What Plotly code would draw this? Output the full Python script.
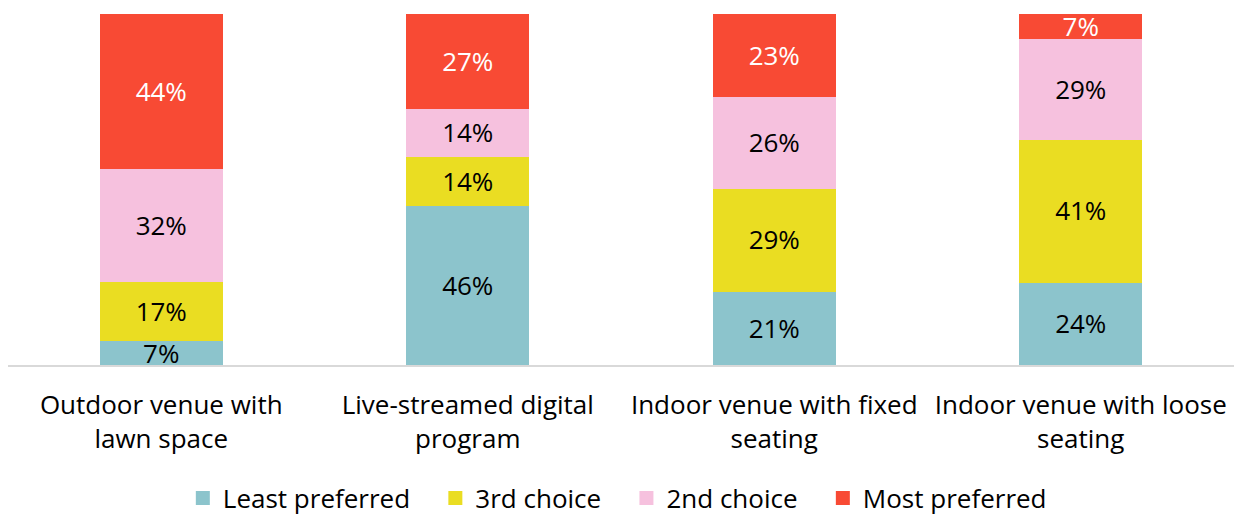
import plotly.graph_objects as go

categories = ["Outdoor venue with<br>lawn space", "Live-streamed digital<br>program",
              "Indoor venue with fixed<br>seating", "Indoor venue with loose<br>seating"]
series_names = ["Least preferred", "3rd choice", "2nd choice", "Most preferred"]
least_preferred = [7, 46, 21, 24]
third_choice = [17, 14, 29, 41]
second_choice = [32, 14, 26, 29]
most_preferred = [44, 27, 23, 7]
colors = ["#8CC4CC", "#EADD22", "#F6C1DE", "#F84A34"]
text_colors = ["#000000", "#000000", "#000000", "#FFFFFF"]

values = [least_preferred, third_choice, second_choice, most_preferred]

FS = 26
PAD = "\u00a0\u00a0\u00a0"

fig = go.Figure()
for i, (name, vals, col, tcol) in enumerate(zip(series_names, values, colors, text_colors)):
    label = name + (PAD if i < len(series_names) - 1 else "")
    fig.add_trace(go.Bar(
        x=categories, y=vals, name=label,
        marker=dict(color=col, line=dict(width=2, color=col)),
        text=[f"{v}%" for v in vals], texttemplate="%{text}",
        textposition="inside", insidetextanchor="middle", textangle=0,
        textfont=dict(color=tcol, size=FS, family="Open Sans"),
        constraintext="none", hoverinfo="skip",
    ))

fig.update_layout(
    barmode="stack", barnorm="percent", bargap=0.606,
    width=1241, height=515,
    margin=dict(l=8, r=7, t=14, b=150),
    plot_bgcolor="white", paper_bgcolor="white",
    font=dict(family="Open Sans", size=FS, color="#000000"),
    uniformtext=dict(minsize=FS, mode="show"),
    showlegend=True,
    legend=dict(orientation="h", x=0.497, xanchor="center",
                yref="container", y=0.033, yanchor="middle",
                font=dict(size=FS), traceorder="normal", itemwidth=30),
    xaxis=dict(showline=True, linecolor="#D9D9D9", linewidth=2, ticks="",
               tickfont=dict(size=FS), ticklabelstandoff=16),
    yaxis=dict(visible=False, range=[0, 100], showgrid=False),
)

fig.write_html("out.html", config={"displayModeBar": False},
               post_script="document.body.style.margin='0';document.body.style.overflow='hidden';")
